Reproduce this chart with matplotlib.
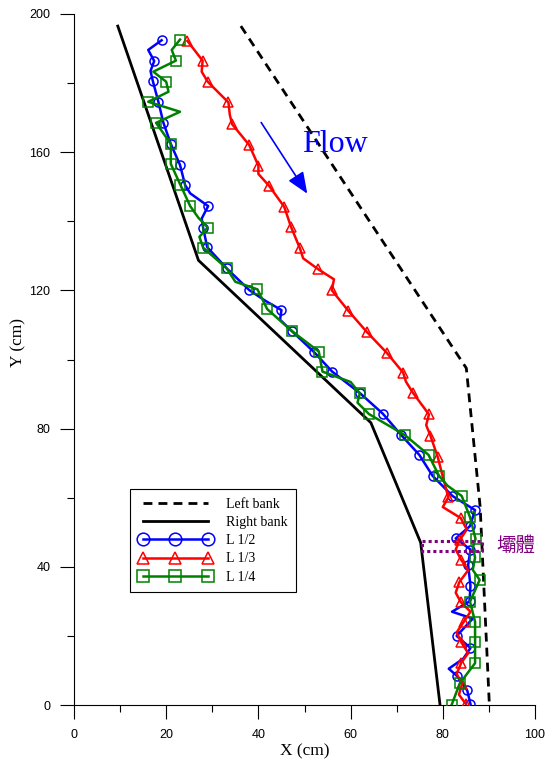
import matplotlib
matplotlib.use("Agg")
import matplotlib.pyplot as plt
from matplotlib.ticker import MultipleLocator

# river banks (cm)
right_bank_x = [9.5, 27.0, 64.4, 75.2, 79.4]
right_bank_y = [196.5, 128.7, 81.7, 47.0, 0.0]
left_bank_x = [36.2, 85.1, 88.1, 90.1]
left_bank_y = [196.5, 97.5, 57.4, 0.0]

# L 1/2 : line vertices, index of vertices that carry a marker
l12_x = [19.0, 16.1, 17.4, 16.6, 17.1, 18.3, 19.4, 21.0, 23.0, 24.1, 25.2, 29.1, 27.7, 28.0,
         28.9, 33.1, 38.0, 41.5, 45.0, 44.7, 47.2, 52.1, 56.0, 62.0, 67.0, 71.0, 74.9, 77.8,
         82.1, 87.0, 85.9, 82.8, 86.0, 85.5, 86.0, 85.8, 82.0, 86.5, 83.0, 86.0, 84.5, 81.3,
         83.0, 85.3, 86.0]
l12_y = [192.4, 189.6, 186.4, 183.5, 180.6, 174.6, 168.5, 162.4, 156.3, 150.5, 148.1, 144.4,
         140.8, 138.2, 132.5, 126.4, 120.1, 117.0, 114.3, 111.5, 108.3, 102.1, 96.5, 90.3,
         84.3, 78.1, 72.4, 66.3, 60.5, 56.4, 51.8, 48.2, 45.0, 40.5, 34.5, 30.0, 27.0, 25.0,
         20.0, 16.5, 13.5, 10.5, 8.5, 4.2, 0.3]
l12_mark = [0, 2, 4, 5, 6, 7, 8, 9, 11, 13, 14, 15, 16, 18, 20, 21, 22, 23, 24, 25, 26, 27,
            28, 29, 30, 31, 32, 33, 34, 35, 38, 39, 42, 43, 44]

# L 1/3
l13_x = [24.6, 27.9, 27.7, 29.0, 33.5, 33.8, 34.3, 38.0, 40.0, 40.0, 42.3, 45.6, 47.1, 49.0,
         49.7, 53.0, 56.4, 55.9, 59.5, 63.5, 67.8, 71.4, 72.0, 73.5, 77.0, 76.4, 77.3, 78.9,
         79.8, 81.2, 80.0, 83.9, 85.2, 83.7, 82.8, 84.0, 85.5, 83.6, 82.8, 83.9, 86.0, 84.5,
         83.0, 84.0, 85.5, 84.0, 83.0, 84.2, 83.5, 85.0]
l13_y = [192.2, 186.5, 183.3, 180.4, 174.4, 170.8, 168.1, 162.1, 156.1, 153.7, 150.3, 144.2,
         138.3, 132.2, 129.3, 126.1, 123.2, 120.1, 114.1, 108.0, 102.0, 96.2, 93.6, 90.4,
         84.1, 81.0, 78.0, 71.8, 67.1, 60.1, 57.3, 54.1, 50.8, 47.8, 45.0, 42.0, 39.0, 35.6,
         32.5, 29.8, 27.0, 24.0, 21.0, 18.2, 15.0, 12.2, 9.0, 6.1, 3.0, 0.3]
l13_mark = [0, 1, 3, 4, 6, 7, 8, 10, 11, 12, 13, 15, 17, 18, 19, 20, 21, 23, 24, 26, 27, 29,
            31, 33, 35, 37, 39, 41, 43, 45, 47, 49]

# L 1/4
l14_x = [23.0, 21.2, 22.1, 17.2, 20.0, 20.5, 16.1, 23.0, 17.8, 21.0, 21.0, 23.1, 25.2, 27.0,
         29.0, 27.2, 28.0, 33.1, 35.0, 39.8, 41.9, 47.2, 53.1, 53.9, 60.0, 62.0, 61.5, 64.0,
         71.8, 76.9, 79.2, 81.0, 84.1, 85.9, 87.1, 86.5, 87.0, 86.5, 88.0, 85.9, 87.0, 87.0,
         87.0, 83.7, 81.9]
l14_y = [192.6, 189.6, 186.5, 183.3, 180.4, 177.5, 174.6, 171.7, 168.5, 162.4, 156.6, 150.5,
         144.4, 141.0, 138.2, 135.5, 132.4, 126.4, 122.5, 120.3, 114.6, 108.3, 102.3, 96.5,
         93.5, 90.2, 87.5, 84.2, 78.1, 72.4, 66.3, 63.5, 60.5, 54.4, 48.1, 45.5, 42.7, 39.1,
         36.2, 29.9, 24.1, 18.1, 12.1, 6.3, 0.0]
l14_mark = [0, 2, 4, 6, 8, 9, 10, 11, 12, 14, 16, 17, 19, 20, 21, 22, 23, 25, 27, 28, 29, 30,
            32, 33, 34, 36, 38, 39, 40, 41, 42, 43, 44]

# weir (dike) extent and annotations
dike_x = [75.4, 88.4]
dike_y = [44.6, 47.6]
flow_start = (40.6, 168.6)
flow_end = (50.6, 148.0)

serif = "Liberation Serif"
sans = "Liberation Sans"

fig = plt.figure(figsize=(5.47, 7.65), dpi=100)
ax = fig.add_axes([74 / 547, 60 / 765, 461 / 547, 691 / 765])

ax.plot(left_bank_x, left_bank_y, color="black", lw=2.0, dashes=(3.2, 2.2),
        label="Left bank", zorder=2)
ax.plot(right_bank_x, right_bank_y, color="black", lw=2.0, label="Right bank", zorder=2)

mk = dict(ms=6.5, mew=1.1, mfc="none", lw=1.8)
ax.plot(l12_x, l12_y, color="#0000ff", marker="o", markevery=l12_mark, label="L 1/2",
        zorder=3, **mk)
ax.plot(l13_x, l13_y, color="#ff0000", marker="^", markevery=l13_mark, label="L 1/3",
        zorder=4, **mk)
ax.plot(l14_x, l14_y, color="#008000", marker="s", markevery=l14_mark, label="L 1/4",
        zorder=5, **mk)

# dike outline
rx = [dike_x[0], dike_x[1], dike_x[1], dike_x[0], dike_x[0]]
ry = [dike_y[1], dike_y[1], dike_y[0], dike_y[0], dike_y[1]]
ax.plot(rx, ry, color="#800080", lw=2.2, dashes=(1, 1), zorder=6)
ax.text(dike_x[1] + 3.2, sum(dike_y) / 2, "壩體", color="#800080", fontsize=14,
        family=["Noto Sans CJK TC", "DejaVu Sans"], va="center", ha="left")

# flow direction
ax.annotate("", xy=flow_end, xytext=flow_start,
            arrowprops=dict(arrowstyle="-|>,head_length=0.65,head_width=0.27",
                            mutation_scale=20, color="#0000ff", lw=1.2,
                            shrinkA=0, shrinkB=0))
ax.text(49.4, 160.1, "Flow", color="#0000ff", fontsize=23, family=serif,
        va="baseline", ha="left")

ax.set_xlim(0, 100)
ax.set_ylim(0, 200)
ax.xaxis.set_major_locator(MultipleLocator(20))
ax.xaxis.set_minor_locator(MultipleLocator(10))
ax.yaxis.set_major_locator(MultipleLocator(40))
ax.yaxis.set_minor_locator(MultipleLocator(20))
ax.tick_params(which="major", direction="out", length=10, width=0.8, pad=7,
               labelsize=9)
ax.tick_params(which="minor", direction="out", length=5.3, width=0.8)
for lab in ax.get_xticklabels() + ax.get_yticklabels():
    lab.set_family(sans)
for s in ("top", "right"):
    ax.spines[s].set_visible(False)
for s in ("left", "bottom"):
    ax.spines[s].set_linewidth(0.8)

ax.set_xlabel("X (cm)", family=serif, fontsize=12.5, labelpad=2)
ax.set_ylabel("Y (cm)", family=serif, fontsize=12.5)
ax.yaxis.set_label_coords(-0.103, 0.524)

leg = ax.legend(loc="lower left", bbox_to_anchor=(130 / 547, 1 - 592 / 765),
                bbox_transform=fig.transFigure, prop={"family": serif, "size": 10},
                numpoints=3, markerscale=1.4, handlelength=5.3, handletextpad=1.0,
                labelspacing=0.38, borderpad=0.6, borderaxespad=0, fancybox=False,
                framealpha=1, edgecolor="black")
leg.get_frame().set_linewidth(0.8)

fig.savefig("out.png", dpi=100)
